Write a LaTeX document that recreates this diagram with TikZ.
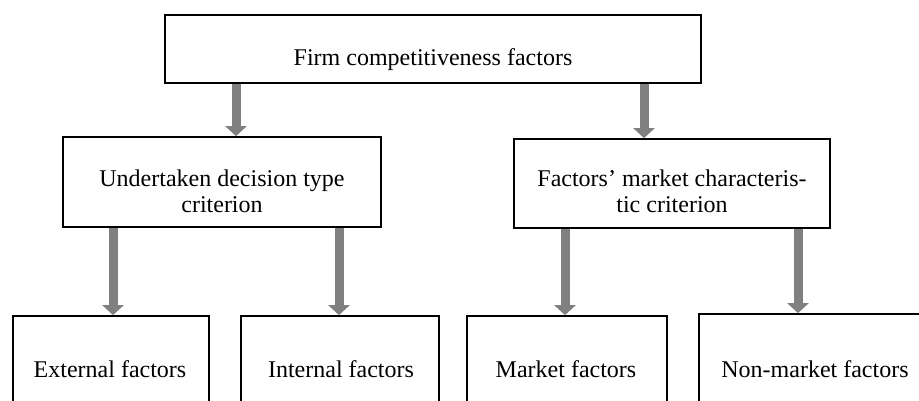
\documentclass[tikz,border=0pt]{standalone}
\usepackage{fontspec}
\setmainfont{Liberation Serif}
\usetikzlibrary{arrows.meta}
\tikzset{
  box/.style={draw=black, line width=1.7pt, rectangle, inner sep=0pt, fill=none},
  lbl/.style={font=\fontsize{24}{26.5}\selectfont, align=center, inner sep=0pt, text=black},
  arr/.style={draw=gray!100!white, color={rgb,255:red,128;green,128;blue,128}, line width=9pt,
    -{Triangle[width=21pt,length=10pt]}, shorten >=0pt}
}
\begin{document}
\begin{tikzpicture}[x=1pt,y=-1pt]
\useasboundingbox (0,0) rectangle (919,401);
\clip (0,0) rectangle (919,401);
% boxes
\node[box, minimum width=536pt, minimum height=68pt] (top) at (433,49) {};
\node[box, minimum width=318pt, minimum height=90pt] (ml) at (222,182) {};
\node[box, minimum width=316pt, minimum height=89pt] (mr) at (672,183.5) {};
\node[box, minimum width=196pt, minimum height=110pt] (ext) at (111,371) {};
\node[box, minimum width=198pt, minimum height=110pt] (int) at (340,371) {};
\node[box, minimum width=200pt, minimum height=110pt] (mkt) at (567,371) {};
\node[box, minimum width=234pt, minimum height=112pt] (nm) at (816,370) {};
% texts
\node[lbl, anchor=base] (ttop) at (433,66) {Firm competitiveness factors};
\node[lbl, anchor=base] (tml1) at (222,187) {Undertaken decision type};
\node[lbl, anchor=base] (tml2) at (222,213) {criterion};
\node[lbl, anchor=base] (tmr1) at (672,187) {Factors’ market characteris-};
\node[lbl, anchor=base] (tmr2) at (672,213) {tic criterion};
\node[lbl, anchor=base] (text) at (110,377) {External factors};
\node[lbl, anchor=base] (tint) at (341,377) {Internal factors};
\node[lbl, anchor=base] (tmkt) at (566,377) {Market factors};
\node[lbl, anchor=base] (tnm) at (815,377) {Non-market factors};
% arrows
\draw[arr] ([xshift=14pt]ml.north |- top.south) -- ([xshift=14pt]ml.north);
\draw[arr] ([xshift=-28pt]mr.north |- top.south) -- ([xshift=-28pt]mr.north);
\draw[arr] ([xshift=2pt]ext.north |- ml.south) -- ([xshift=2pt]ext.north);
\draw[arr] ([xshift=-1pt]int.north |- ml.south) -- ([xshift=-1pt]int.north);
\draw[arr] ([xshift=-2pt]mkt.north |- mr.south) -- ([xshift=-2pt]mkt.north);
\draw[arr] ([xshift=-18pt]nm.north |- mr.south) -- ([xshift=-18pt]nm.north);
\end{tikzpicture}
\end{document}
